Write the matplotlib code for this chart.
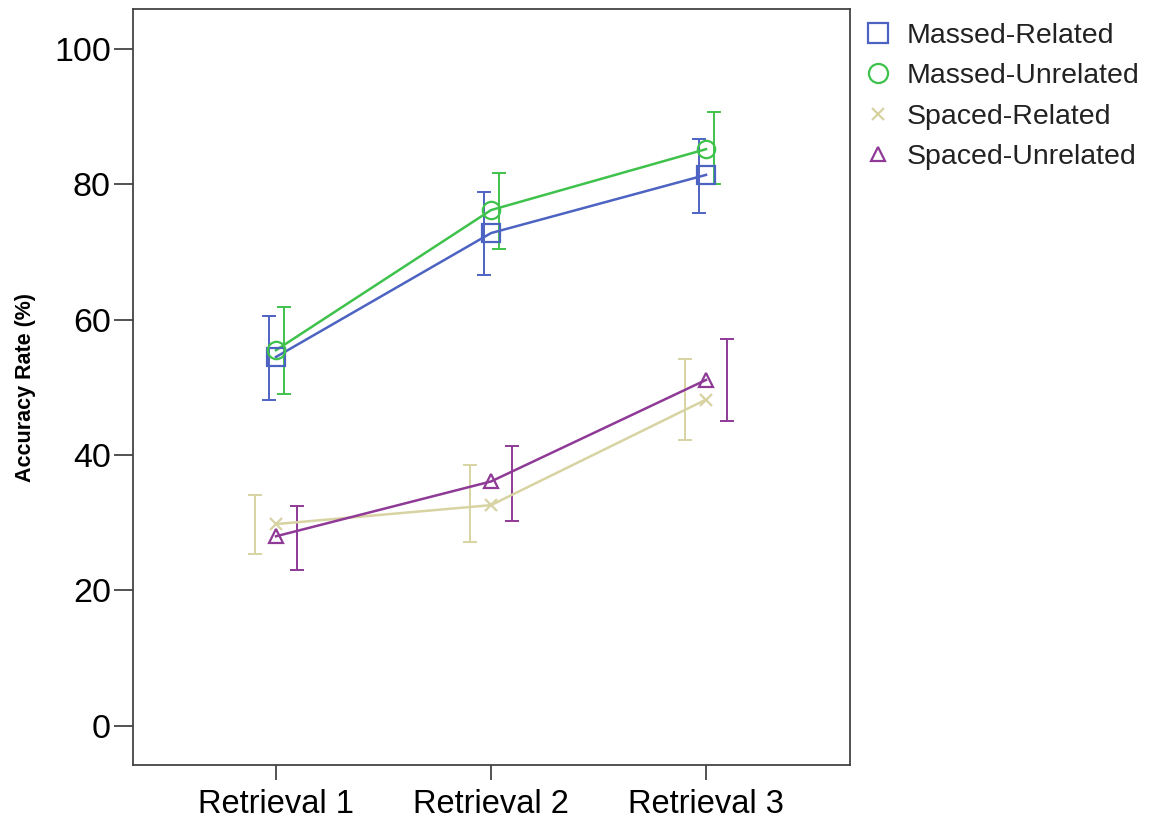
import matplotlib
matplotlib.use("Agg")
import matplotlib.pyplot as plt
import numpy as np

plt.rcParams['font.family'] = ['Liberation Sans', 'DejaVu Sans']

categories = ["Retrieval 1", "Retrieval 2", "Retrieval 3"]
series_names = ["Massed-Related", "Massed-Unrelated", "Spaced-Related", "Spaced-Unrelated"]

massed_related = [54.5, 72.8, 81.4]
massed_related_lo = [48.2, 66.6, 75.7]
massed_related_hi = [60.6, 78.9, 86.7]

massed_unrelated = [55.5, 76.2, 85.2]
massed_unrelated_lo = [49.0, 70.4, 80.1]
massed_unrelated_hi = [61.9, 81.7, 90.7]

spaced_related = [29.8, 32.6, 48.2]
spaced_related_lo = [25.4, 27.1, 42.2]
spaced_related_hi = [34.1, 38.6, 54.2]

spaced_unrelated = [28.0, 36.1, 51.1]
spaced_unrelated_lo = [23.0, 30.2, 45.0]
spaced_unrelated_hi = [32.5, 41.4, 57.2]

means = [massed_related, massed_unrelated, spaced_related, spaced_unrelated]
los = [massed_related_lo, massed_unrelated_lo, spaced_related_lo, spaced_unrelated_lo]
his = [massed_related_hi, massed_unrelated_hi, spaced_related_hi, spaced_unrelated_hi]

colors = ["#4d63c2", "#3fc24c", "#d8d3a2", "#8e3a96"]
markers = ["s", "o", "x", "^"]
msizes = [13.5, 12.5, 8, 9.5]
offsets = [-0.033, 0.036, -0.096, 0.096]

fig = plt.figure(figsize=(11.54, 8.25), dpi=100)
ax = fig.add_axes([0.1153, 0.0727, 0.6213, 0.9163])

x = np.arange(1, len(categories) + 1)
handles = []
for m, lo, hi, c, mk, ms, off, name in zip(means, los, his, colors, markers, msizes, offsets, series_names):
    m = np.array(m); lo = np.array(lo); hi = np.array(hi)
    ax.errorbar(x + off, m, yerr=[m - lo, hi - m], fmt='none', ecolor=c,
                elinewidth=1.4, capsize=5, capthick=1.4, zorder=2)
    ax.plot(x, m, color=c, lw=1.8, zorder=3)
    h, = ax.plot(x, m, linestyle='none', marker=mk, markersize=ms,
                 markerfacecolor='none', markeredgecolor=c, markeredgewidth=1.6,
                 zorder=4, label=name)
    handles.append(h)

ax.set_xlim(0.335, 3.67)
ax.set_ylim(-5.8, 105.9)
ax.set_xticks(x)
ax.set_xticklabels(categories, fontsize=23.5)
ax.set_yticks([0, 20, 40, 60, 80, 100])
ax.tick_params(axis='y', labelsize=24.5, length=14, width=1.3, color='#444444', pad=2)
ax.tick_params(axis='x', length=11, width=1.3, color='#444444', pad=6)
for s in ax.spines.values():
    s.set_color('#444444')
    s.set_linewidth(1.3)

ax.set_ylabel("Accuracy Rate (%)", fontsize=15.5, fontweight='bold', labelpad=13)

leg = ax.legend(handles=handles, loc='upper left', bbox_to_anchor=(0.995, 1.004),
                frameon=False, fontsize=20.5, handlelength=1.0, handletextpad=0.5,
                labelspacing=0.5, borderaxespad=0.2, markerscale=1.1)
for t in leg.get_texts():
    t.set_color('#222222')

fig.savefig("out.png", dpi=100)
